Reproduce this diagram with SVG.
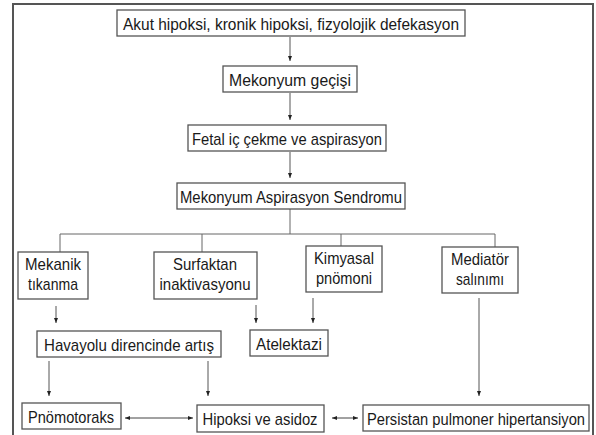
<svg xmlns="http://www.w3.org/2000/svg" width="596" height="435" viewBox="0 0 596 435">
<defs>
<style>
.box{fill:#fff;stroke:#555;stroke-width:1.3}
.t{font-family:"Liberation Sans",Arial,sans-serif;font-size:17px;fill:#1a1a1a;text-anchor:middle}
.ln{fill:none;stroke:#666;stroke-width:1}
.ar{fill:none;stroke:#555;stroke-width:1;marker-end:url(#ah)}
.ar2{fill:none;stroke:#444;stroke-width:1;marker-end:url(#ah);marker-start:url(#ah)}
</style>
<marker id="ah" viewBox="0 0 6 6" refX="6" refY="3" markerWidth="5" markerHeight="5" markerUnits="userSpaceOnUse" orient="auto-start-reverse"><path d="M0,0.6 L6,3 L0,5.4 z" fill="#222"/></marker>
</defs>
<rect x="13" y="4" width="580" height="440" fill="#fff" stroke="#555" stroke-width="2"/>
<g id="connectors">
<path class="ar" d="M290,37 V61"/>
<path class="ar" d="M290,93 V120"/>
<path class="ar" d="M290,152 V178"/>
<path class="ln" d="M290,209 V234 M60,234 H495 M60,234 V252 M202,234 V252 M341,234 V246 M495,234 V247"/>
<path class="ar" d="M56,306 V323"/>
<path class="ar" d="M256,305 V323"/>
<path class="ar" d="M313,298 V323"/>
<path class="ar" d="M479,298 V396"/>
<path class="ar" d="M49,361 V396"/>
<path class="ar" d="M208,361 V396"/>
<path class="ar2" d="M125,418 H193"/>
<path class="ar2" d="M332,418 H358"/>
</g>
<g id="n1"><rect class="box" x="117" y="10" width="348" height="26"/><text class="t" x="291" y="29.5" textLength="336" lengthAdjust="spacingAndGlyphs">Akut hipoksi, kronik hipoksi, fizyolojik defekasyon</text></g>
<g id="n2"><rect class="box" x="223" y="66" width="134" height="26"/><text class="t" x="290" y="85.5" textLength="122" lengthAdjust="spacingAndGlyphs">Mekonyum geçişi</text></g>
<g id="n3"><rect class="box" x="188" y="125" width="198" height="26"/><text class="t" x="287" y="144.5" textLength="190" lengthAdjust="spacingAndGlyphs">Fetal iç çekme ve aspirasyon</text></g>
<g id="n4"><rect class="box" x="177" y="183" width="228" height="26"/><text class="t" x="291" y="202.5" textLength="222" lengthAdjust="spacingAndGlyphs">Mekonyum Aspirasyon Sendromu</text></g>
<g id="n5"><rect class="box" x="18" y="252" width="70" height="47"/><text class="t" x="53" y="269.5" textLength="56" lengthAdjust="spacingAndGlyphs">Mekanik</text><text class="t" x="53" y="289.5" textLength="50" lengthAdjust="spacingAndGlyphs">tıkanma</text></g>
<g id="n6"><rect class="box" x="154" y="252" width="103" height="47"/><text class="t" x="205" y="269.5" textLength="64" lengthAdjust="spacingAndGlyphs">Surfaktan</text><text class="t" x="205" y="289.5" textLength="91" lengthAdjust="spacingAndGlyphs">inaktivasyonu</text></g>
<g id="n7"><rect class="box" x="306" y="246" width="76" height="46"/><text class="t" x="344" y="263.5" textLength="60" lengthAdjust="spacingAndGlyphs">Kimyasal</text><text class="t" x="344" y="283.5" textLength="56" lengthAdjust="spacingAndGlyphs">pnömoni</text></g>
<g id="n8"><rect class="box" x="442" y="247" width="76" height="46"/><text class="t" x="480" y="264.5" textLength="58" lengthAdjust="spacingAndGlyphs">Mediatör</text><text class="t" x="480" y="284.5" textLength="48" lengthAdjust="spacingAndGlyphs">salınımı</text></g>
<g id="n9"><rect class="box" x="37" y="331" width="184" height="26"/><text class="t" x="129" y="350.5" textLength="170" lengthAdjust="spacingAndGlyphs">Havayolu direncinde artış</text></g>
<g id="n10"><rect class="box" x="250" y="330" width="78" height="26"/><text class="t" x="289" y="349.5" textLength="66" lengthAdjust="spacingAndGlyphs">Atelektazi</text></g>
<g id="n11"><rect class="box" x="22" y="403" width="99" height="26"/><text class="t" x="71" y="422.5" textLength="86" lengthAdjust="spacingAndGlyphs">Pnömotoraks</text></g>
<g id="n12"><rect class="box" x="197" y="405" width="127" height="27"/><text class="t" x="260" y="424.5" textLength="115" lengthAdjust="spacingAndGlyphs">Hipoksi ve asidoz</text></g>
<g id="n13"><rect class="box" x="363" y="405" width="226" height="26"/><text class="t" transform="translate(476,424.5) scale(0.865,1)" x="0" y="0">Persistan pulmoner hipertansiyon</text></g>
</svg>
